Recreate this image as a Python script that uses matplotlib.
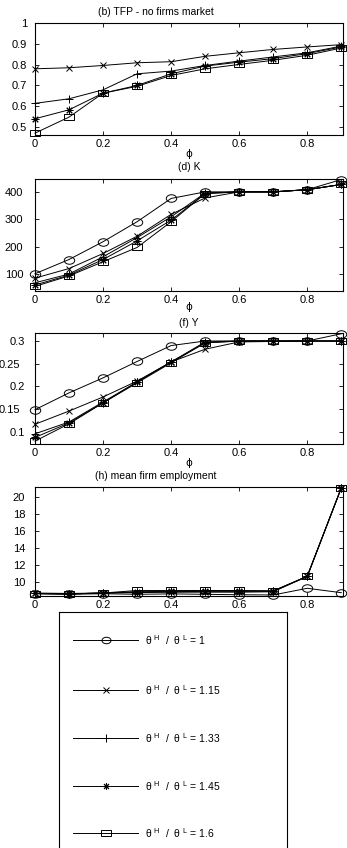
import matplotlib
matplotlib.use("Agg")
import matplotlib.pyplot as plt
import matplotlib.transforms as mtransforms
from matplotlib.path import Path
from matplotlib.lines import Line2D
import numpy as np

plt.rcParams['font.family'] = ['Liberation Sans', 'DejaVu Sans']
plt.rcParams['mathtext.fontset'] = 'dejavusans'

# ---------------- data ----------------
phi = [0, 0.1, 0.2, 0.3, 0.4, 0.5, 0.6, 0.7, 0.8, 0.9]
ratio_labels = ['1', '1.15', '1.33', '1.45', '1.6']

tfp_115 = [0.780, 0.785, 0.796, 0.809, 0.814, 0.840, 0.857, 0.873, 0.885, 0.896]
tfp_133 = [0.614, 0.636, 0.679, 0.756, 0.769, 0.796, 0.817, 0.837, 0.857, 0.889]
tfp_145 = [0.540, 0.583, 0.663, 0.700, 0.756, 0.793, 0.812, 0.829, 0.853, 0.885]
tfp_160 = [0.471, 0.548, 0.663, 0.696, 0.748, 0.780, 0.801, 0.821, 0.845, 0.880]

k_100 = [101, 153, 218, 291, 376, 400, 400, 400, 408, 445]
k_115 = [85, 120, 175, 238, 318, 378, 400, 400, 408, 427]
k_133 = [68, 100, 163, 233, 309, 396, 400, 400, 408, 427]
k_145 = [60, 96, 153, 221, 297, 394, 400, 400, 408, 427]
k_160 = [55, 93, 145, 197, 291, 394, 400, 400, 408, 427]

y_100 = [0.149, 0.186, 0.219, 0.255, 0.290, 0.300, 0.300, 0.300, 0.300, 0.316]
y_115 = [0.117, 0.146, 0.177, 0.212, 0.254, 0.282, 0.298, 0.299, 0.300, 0.300]
y_133 = [0.096, 0.122, 0.166, 0.210, 0.254, 0.298, 0.300, 0.300, 0.300, 0.300]
y_145 = [0.088, 0.120, 0.164, 0.210, 0.254, 0.296, 0.300, 0.300, 0.300, 0.300]
y_160 = [0.080, 0.118, 0.164, 0.208, 0.252, 0.296, 0.300, 0.300, 0.300, 0.300]

e_100 = [8.62, 8.55, 8.62, 8.55, 8.60, 8.55, 8.50, 8.47, 9.26, 8.74]
e_115 = [8.70, 8.65, 8.70, 8.75, 8.80, 8.80, 8.80, 8.85, 10.67, 21.1]
e_133 = [8.65, 8.60, 8.70, 8.80, 8.85, 8.90, 8.90, 8.90, 10.67, 21.1]
e_145 = [8.65, 8.60, 8.70, 8.85, 8.90, 8.95, 8.95, 8.95, 10.67, 21.1]
e_160 = [8.62, 8.60, 8.70, 9.00, 9.00, 9.00, 9.00, 8.95, 10.67, 21.1]

# ---------------- styles ----------------
circ = Path.unit_circle()
ellipse = Path(circ.vertices * np.array([1.0, 0.72]), circ.codes)
rect = Path([(-1, -0.72), (1, -0.72), (1, 0.72), (-1, 0.72), (-1, -0.72)],
            [Path.MOVETO, Path.LINETO, Path.LINETO, Path.LINETO, Path.CLOSEPOLY])
markers = [ellipse, 'x', '+', (8, 2, 0), rect]
msizes = [7.5, 5, 6, 5.5, 7]
leg_msizes = [6.5, 4, 6, 5, 6.5]

W, H = 347, 848
fig = plt.figure(figsize=(W / 100, H / 100), dpi=100)
FS = 7.5
TFS = 8


def px_axes(l, t, r, b):
    return fig.add_axes([l / W, 1 - b / H, (r - l) / W, (b - t) / H])


def style(ax, ylim, yticks, ylabels, ypad):
    ax.set_xlim(0, 0.905)
    ax.set_ylim(*ylim)
    ax.set_xticks([0, 0.2, 0.4, 0.6, 0.8])
    ax.set_xticklabels(['0', '0.2', '0.4', '0.6', '0.8'])
    ax.set_yticks(yticks)
    ax.set_yticklabels(ylabels)
    ax.tick_params(direction='in', top=True, right=True, length=3,
                   width=0.6, labelsize=TFS, pad=3)
    ax.tick_params(axis='y', pad=ypad)
    for s in ax.spines.values():
        s.set_linewidth(0.8)


def plot_series(ax, series, idx):
    for i, ys in zip(idx, series):
        ax.plot(phi, ys, color='black', lw=0.7, marker=markers[i],
                ms=msizes[i], mfc='none', mec='black', mew=0.7, clip_on=False)


ax1 = px_axes(35, 23, 343, 135)
plot_series(ax1, [tfp_115, tfp_133, tfp_145, tfp_160], [1, 2, 3, 4])
style(ax1, (0.462, 1.0), [0.5, 0.6, 0.7, 0.8, 0.9, 1.0],
      ['0.5', '0.6', '0.7', '0.8', '0.9', '1'], 5.5)

ax2 = px_axes(35, 179, 343, 291)
plot_series(ax2, [k_100, k_115, k_133, k_145, k_160], [0, 1, 2, 3, 4])
style(ax2, (38, 447), [100, 200, 300, 400], ['100', '200', '300', '400'], 8.5)

ax3 = px_axes(35, 333, 343, 444)
plot_series(ax3, [y_100, y_115, y_133, y_145, y_160], [0, 1, 2, 3, 4])
style(ax3, (0.0736, 0.3176), [0.1, 0.15, 0.2, 0.25, 0.3],
      ['0.1', '0.15', '0.2', '0.25', '0.3'], 7.5)
shift = mtransforms.ScaledTranslation(-4 / 100, 0, fig.dpi_scale_trans)
for lab in ax3.get_yticklabels():
    if lab.get_text() in ('0.25', '0.15'):
        lab.set_transform(lab.get_transform() + shift)

ax4 = px_axes(35, 487, 343, 596)
plot_series(ax4, [e_100, e_115, e_133, e_145, e_160], [0, 1, 2, 3, 4])
style(ax4, (8.35, 21.2), [10, 12, 14, 16, 18, 20],
      ['10', '12', '14', '16', '18', '20'], 7)

# titles and x labels
for (x, y, s) in [(156, 12, '(b) TFP - no firms market'), (189, 167, '(d) K'),
                  (189, 323, '(f) Y'), (156, 476, '(h) mean firm employment')]:
    fig.text(x / W, 1 - y / H, s, ha='center', va='center', fontsize=FS)
for y in [154, 307, 463]:
    fig.text(189 / W, 1 - y / H, 'ϕ', ha='center', va='center', fontsize=FS,
             family=['DejaVu Sans'])

# legend box
lax = fig.add_axes([59 / W, -0.02, (287 - 59) / W, (848 - 612) / H + 0.02])
lax.set_xlim(59, 287)
lax.set_ylim(848 + 0.02 * H, 612)
lax.set_xticks([])
lax.set_yticks([])
for s in lax.spines.values():
    s.set_linewidth(0.8)
leg_y = [640, 690, 738, 786, 833]
for i, (yy, lab) in enumerate(zip(leg_y, ratio_labels)):
    lax.add_line(Line2D([73, 138], [yy, yy], color='black', lw=0.7))
    lax.add_line(Line2D([105.5], [yy], marker=markers[i], ms=leg_msizes[i],
                        mfc='none', mec='black', mew=0.7, color='black'))
    lax.text(145, yy, 'θ $\\mathregular{^{H}}$  /  θ $\\mathregular{^{L}}$ = ' + lab,
             ha='left', va='center', fontsize=FS)

fig.savefig('out.png', dpi=100)
